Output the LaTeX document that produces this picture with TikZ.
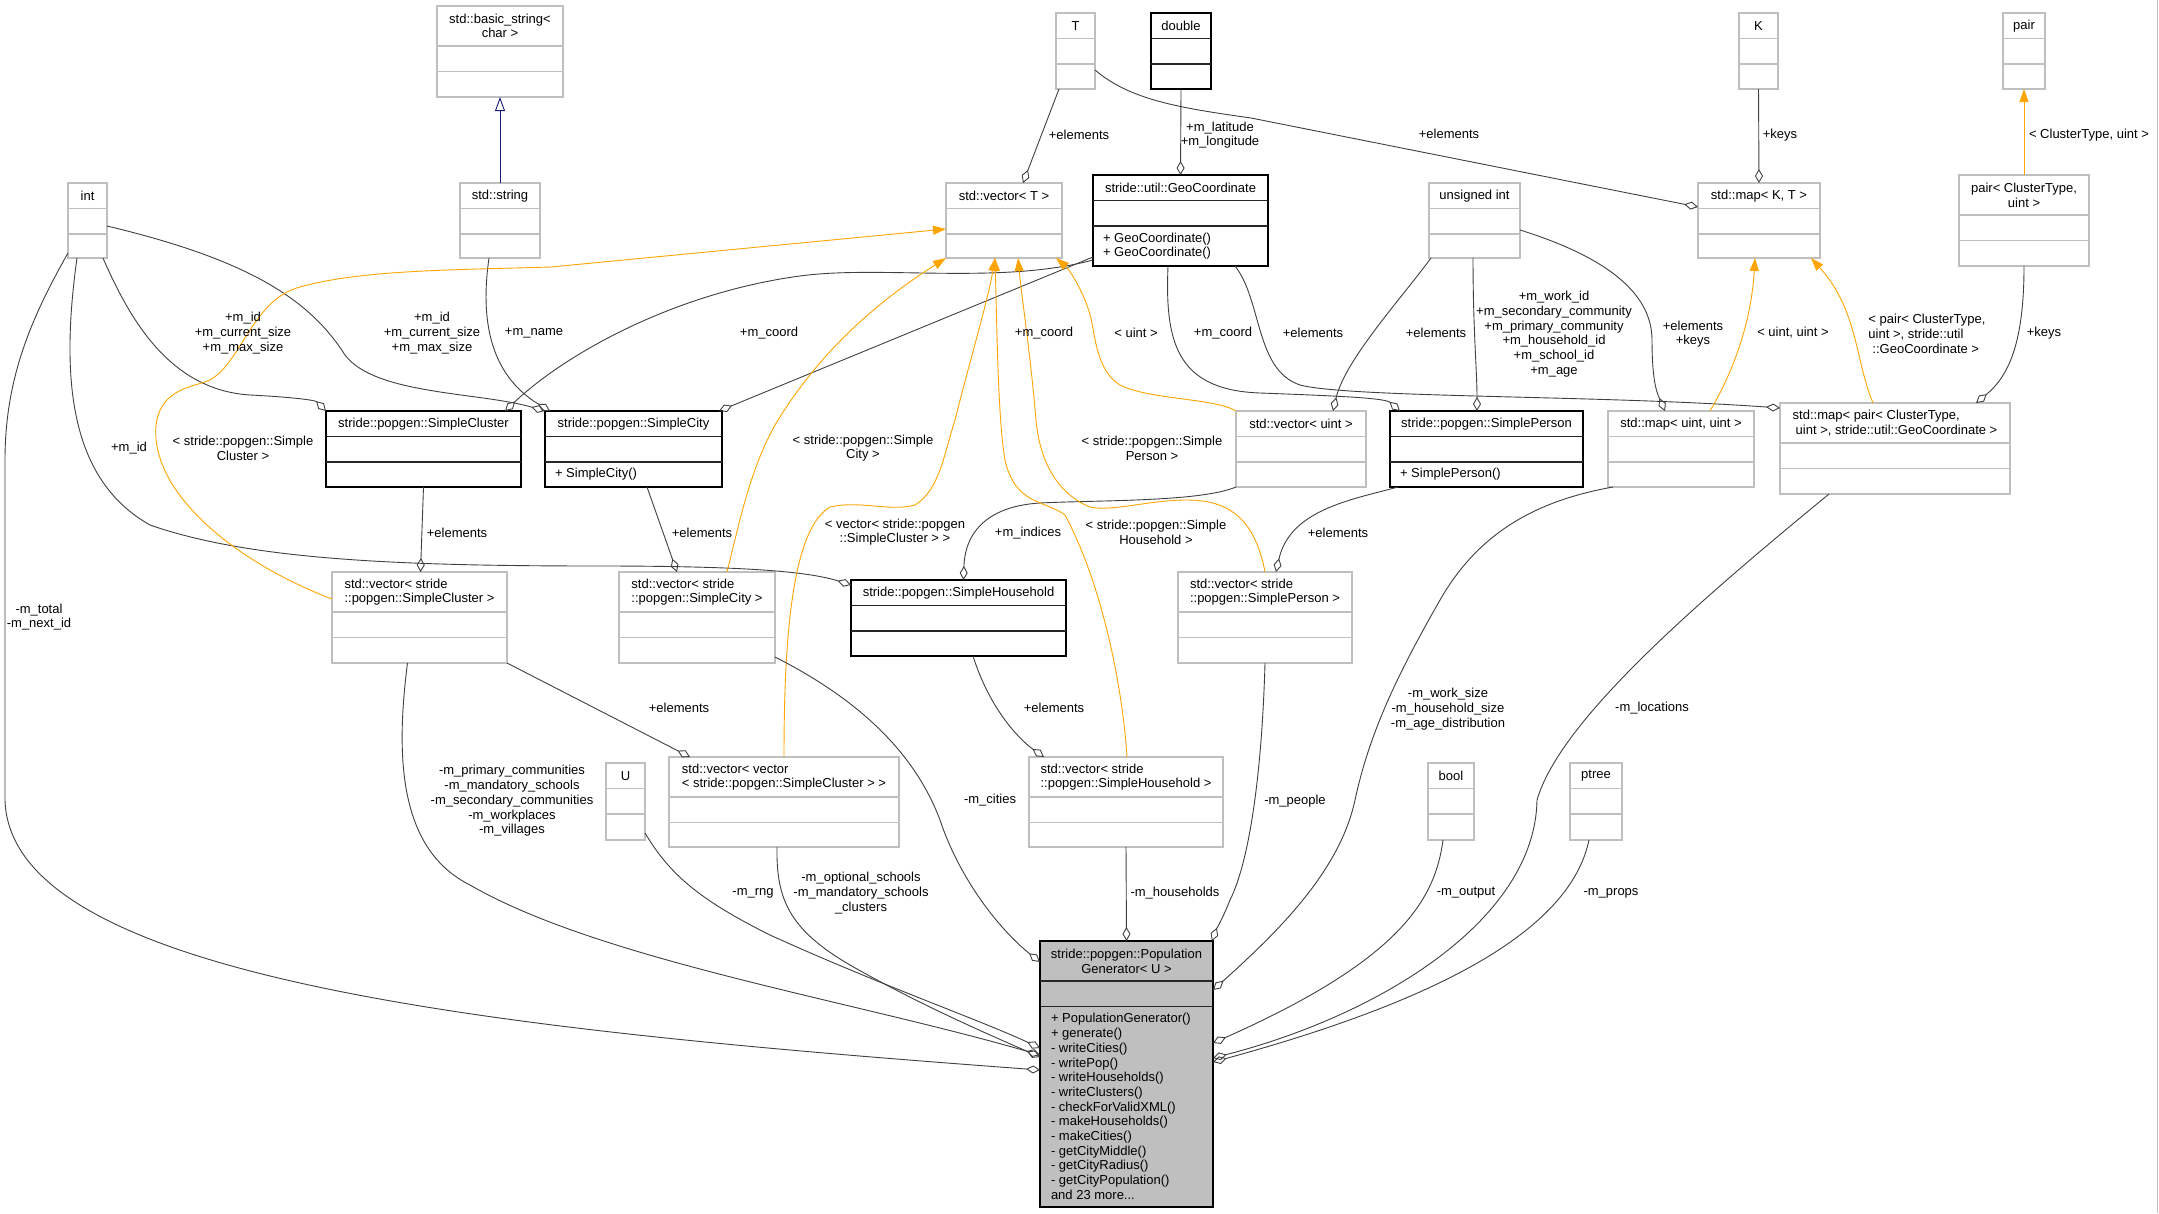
\documentclass[tikz,border=0pt]{standalone}
\usepackage{fontspec}
\setmainfont{Liberation Sans}
\usetikzlibrary{arrows.meta,calc}
\definecolor{edgec}{HTML}{404040}
\definecolor{tplc}{HTML}{BFBFBF}
\definecolor{mainfill}{HTML}{BFBFBF}
\definecolor{orng}{HTML}{FFA500}
\definecolor{inhc}{HTML}{191970}
\tikzset{
 lbl/.style={font=\fontsize{13}{14.7}\selectfont,inner sep=0pt,outer sep=0pt,text=black},
 tplbox/.style={draw=tplc,line width=1.2pt,fill=white,inner sep=0pt,outer sep=0pt},
 tplboxsep/.style={draw=tplc,line width=1.2pt},
 clsbox/.style={draw=black,line width=1.3pt,fill=white,inner sep=0pt,outer sep=0pt},
 clsboxsep/.style={draw=black!85,line width=1.3pt},
 mainbox/.style={draw=black,line width=1.3pt,fill=mainfill,inner sep=0pt,outer sep=0pt},
 mainboxsep/.style={draw=black!85,line width=1.3pt},
 agg/.style={draw=edgec,line width=0.9pt,-{Diamond[open,length=14pt,width=8pt]}},
 tpl/.style={draw=orng,line width=0.9pt,-{Triangle[length=13pt,width=9pt]}},
 inh/.style={draw=inhc,line width=0.9pt,-{Triangle[open,length=14pt,width=10pt]}},
}
% #1 name, #2 style, #3 x1, #4 y1, #5 x2, #6 y2, #7 title height, #8 align, #9 title
\newcommand\cbox[9]{%
  \node[#2,anchor=north west,minimum width={(#5)-(#3)},minimum height={(#6)-(#4)}] (#1) at (#3,#4) {};
  \draw[#2sep] ([yshift=-#7]#1.north west) -- ([yshift=-#7]#1.north east);
  \draw[#2sep] ([yshift={-(#7)-25.5}]#1.north west) -- ([yshift={-(#7)-25.5}]#1.north east);
  \node[lbl,#8] (#1-title) at ([yshift={-(#7)/2}]#1.north) {#9};
}
\begin{document}
\begin{tikzpicture}[x=1pt,y=-1pt]
\fill[white] (0,0) rectangle (2159,1213);
\useasboundingbox (0,0) rectangle (2159,1213);
\draw[tplc,line width=1pt] (2157.5,0) -- (2157.5,1213);

% ---------- boxes ----------
\cbox{bstr}{tplbox}{437}{6}{563}{97}{40}{align=center}{std::basic\_string<\\char >}
\cbox{str}{tplbox}{460}{183}{540}{258}{25.5}{align=center}{std::string}
\cbox{int}{tplbox}{68}{183}{107}{258}{25.5}{align=center}{int}
\cbox{T}{tplbox}{1056}{13}{1095}{89}{25.5}{align=center}{T}
\cbox{dbl}{clsbox}{1151}{13}{1211}{89}{25.5}{align=center}{double}
\cbox{vecT}{tplbox}{946}{183}{1062}{258}{25.5}{align=center}{std::vector< T >}
\cbox{geo}{clsbox}{1093}{175}{1268}{266}{25.5}{align=center}{stride::util::GeoCoordinate}
\cbox{K}{tplbox}{1739}{13}{1778}{89}{25.5}{align=center}{K}
\cbox{pair}{tplbox}{2003}{13}{2045}{89}{25.5}{align=center}{pair}
\cbox{uint}{tplbox}{1429}{183}{1520}{258}{25.5}{align=center}{unsigned int}
\cbox{mapKT}{tplbox}{1698}{183}{1820}{258}{25.5}{align=center}{std::map< K, T >}
\cbox{pairCT}{tplbox}{1959}{175}{2089}{266}{40}{align=center}{pair< ClusterType,\\uint >}
\cbox{scl}{clsbox}{326}{411}{521}{487}{25.5}{align=center}{stride::popgen::SimpleCluster}
\cbox{scity}{clsbox}{545}{411}{722}{487}{25.5}{align=center}{stride::popgen::SimpleCity}
\cbox{vsc}{tplbox}{332}{572}{507}{663}{40}{align=left}{std::vector< stride\\::popgen::SimpleCluster >}
\cbox{vscity}{tplbox}{619}{572}{775}{663}{40}{align=left}{std::vector< stride\\::popgen::SimpleCity >}
\cbox{shh}{clsbox}{851}{580}{1066}{656}{25.5}{align=center}{stride::popgen::SimpleHousehold}
\cbox{vsp}{tplbox}{1178}{572}{1352}{663}{40}{align=left}{std::vector< stride\\::popgen::SimplePerson >}
\cbox{vuint}{tplbox}{1236}{411}{1366}{487}{25.5}{align=center}{std::vector< uint >}
\cbox{sp}{clsbox}{1390}{411}{1583}{487}{25.5}{align=center}{stride::popgen::SimplePerson}
\cbox{mapuu}{tplbox}{1608}{411}{1754}{487}{25.5}{align=center}{std::map< uint, uint >}
\cbox{mappair}{tplbox}{1780}{403}{2010}{494}{40}{align=left}{std::map< pair< ClusterType,\\\hspace{3pt}uint >, stride::util::GeoCoordinate >}
\cbox{U}{tplbox}{606}{763}{645}{840}{25.5}{align=center}{U}
\cbox{vvsc}{tplbox}{669}{757}{899}{847}{40}{align=left}{std::vector< vector\\< stride::popgen::SimpleCluster > >}
\cbox{vshh}{tplbox}{1029}{757}{1223}{847}{40}{align=left}{std::vector< stride\\::popgen::SimpleHousehold >}
\cbox{bool}{tplbox}{1428}{763}{1474}{840}{25.5}{align=center}{bool}
\cbox{ptree}{tplbox}{1570}{763}{1622}{840}{25.5}{align=center}{ptree}
\cbox{main}{mainbox}{1040}{941}{1213}{1207}{40}{align=center}{stride::popgen::Population\\Generator< U >}

% methods
\node[lbl,align=left,anchor=west] (geo-m) at ($(geo.south west)+(10,-20)$) {+ GeoCoordinate()\\+ GeoCoordinate()};
\node[lbl,align=left,anchor=west] (scity-m) at ($(scity.south west)+(10,-12.5)$) {+ SimpleCity()};
\node[lbl,align=left,anchor=west] (sp-m) at ($(sp.south west)+(10,-12.5)$) {+ SimplePerson()};
\node[lbl,align=left,anchor=west] (main-m) at ($(main.south west)+(11,-100.5)$) {+ PopulationGenerator()\\+ generate()\\- writeCities()\\- writePop()\\- writeHouseholds()\\- writeClusters()\\- checkForValidXML()\\- makeHouseholds()\\- makeCities()\\- getCityMiddle()\\- getCityRadius()\\- getCityPopulation()\\and 23 more...};

% ---------- edges ----------
\draw[inh] (str.north) -- (bstr.south);

\draw[agg] ($(T.south west)+(3,0)$) -- ($(vecT.north)+(19,0)$);
\draw[agg] ($(T.south east)+(0,-19)$) .. controls (1130,100) and (1180,108) .. (1251,118) -- ($(mapKT.north west)+(0,24)$);
\draw[agg] (K.south) -- (mapKT.north);
\draw[agg] (dbl.south) -- (geo.north);
\draw[tpl] (pairCT.north) -- (pair.south);
\draw[agg] (pairCT.south) .. controls (2024,340) and (2010,375) .. ($(mappair.north east)+(-34,0)$);

\draw[agg] ($(uint.south west)+(2,0)$) .. controls (1400,300) and (1345,360) .. ($(vuint.north)+(32,0)$);
\draw[agg] ($(uint.south)+(-1.5,0)$) .. controls (1473,330) and (1477,370) .. ($(sp.north west)+(87,0)$);
\draw[agg] ($(uint.south east)+(0,-28)$) .. controls (1600,255) and (1652,290) .. (1652,340) .. controls (1652,385) and (1658,395) .. ($(mapuu.north west)+(57,0)$);

\draw[agg] ($(geo.south west)+(0,-6)$) .. controls (1000,285) and (880,265) .. (800,276) .. controls (680,292) and (570,350) .. ($(scl.north east)+(-16,0)$);
\draw[agg] ($(geo.south west)+(0,-9)$) -- ($(scity.north east)+(-3,0)$);
\draw[agg] ($(geo.south west)+(75,0)$) .. controls (1165,340) and (1175,390) .. (1260,393) .. controls (1340,396) and (1385,398) .. ($(sp.north west)+(10,0)$);
\draw[agg] ($(geo.south east)+(-33,0)$) .. controls (1262,300) and (1255,370) .. (1300,385) .. controls (1350,398) and (1600,395) .. ($(mappair.north west)+(0,5)$);

\draw[agg] ($(int.south east)+(-4,0)$) .. controls (130,320) and (170,390) .. (250,395) .. controls (290,397) and (315,400) .. (scl.north west);
\draw[agg] ($(int.south east)+(0,-32)$) .. controls (250,260) and (310,300) .. (345,355) .. controls (375,395) and (480,392) .. (scity.north west);
\draw[agg] ($(str.south)+(-11,0)$) .. controls (480,320) and (490,375) .. ($(scity.north west)+(5,0)$);
\draw[agg] ($(int.south west)+(9,0)$) .. controls (60,380) and (70,480) .. (150,525) .. controls (250,560) and (400,566) .. (600,566) .. controls (750,566) and (810,572) .. ($(shh.north west)+(0,5)$);
\draw[agg] ($(int.south west)+(0,-5)$) .. controls (30,320) and (5,380) .. (5,460) -- (5,800) .. controls (10,980) and (500,1030) .. ($(main.north west)+(0,129)$);

\draw[agg] (scl.south) -- ($(vsc.north)+(1,0)$);
\draw[agg] ($(scity.south)+(13.5,0)$) -- ($(vscity.north)+(-20,0)$);
\draw[agg] (vuint.south west) .. controls (1200,502) and (1100,500) .. (1040,503) .. controls (990,506) and (965,530) .. ($(shh.north)+(5,0)$);
\draw[agg] ($(sp.south west)+(8,0)$) .. controls (1350,500) and (1290,510) .. ($(vsp.north)+(11,0)$);
\draw[agg] (vsc.south east) -- ($(vvsc.north west)+(21,0)$);
\draw[agg] ($(shh.south)+(14.5,0)$) .. controls (990,710) and (1020,740) .. ($(vshh.north west)+(15,0)$);

% template instantiations
\draw[tpl] ($(vsc.north west)+(0,27)$) .. controls (230,560) and (150,490) .. (156,425) .. controls (160,393) and (185,388) .. (205,382) .. controls (240,370) and (250,300) .. (300,287) .. controls (360,270) and (450,270) .. (551,267) -- ($(vecT.north west)+(0,46)$);
\draw[tpl] ($(vscity.north)+(30,0)$) .. controls (740,520) and (750,470) .. (775,425) .. controls (820,350) and (880,300) .. (vecT.south west);
\draw[tpl] (vvsc.north) .. controls (784,650) and (790,530) .. (830,507) .. controls (860,500) and (890,512) .. (915,505) .. controls (940,490) and (945,450) .. (955,420) .. controls (970,360) and (988,300) .. ($(vecT.south)+(-9,0)$);
\draw[tpl] ($(vshh.north)+(1,0)$) .. controls (1122,680) and (1100,580) .. (1065,515) .. controls (1045,500) and (1015,505) .. (1005,460) .. controls (998,420) and (997,330) .. ($(vecT.south)+(-9,0)$);
\draw[tpl] (vsp.north) .. controls (1255,520) and (1230,500) .. (1187,500) .. controls (1150,500) and (1110,512) .. (1090,507) .. controls (1060,495) and (1040,465) .. (1036,420) .. controls (1030,350) and (1022,300) .. ($(vecT.south)+(14,0)$);
\draw[tpl] (vuint.north west) .. controls (1215,398) and (1150,400) .. (1120,385) .. controls (1095,370) and (1095,330) .. (1090,315) .. controls (1085,295) and (1070,270) .. ($(vecT.south east)+(-6,0)$);
\draw[tpl] ($(mapuu.north west)+(102,0)$) .. controls (1740,360) and (1752,310) .. ($(mapKT.south)+(-4,0)$);
\draw[tpl] ($(mappair.north west)+(93,0)$) .. controls (1855,360) and (1858,310) .. ($(mapKT.south east)+(-9,0)$);

% members of the generator
\draw[agg] ($(vsc.south)+(-12,0)$) .. controls (395,760) and (400,850) .. (470,885) .. controls (600,960) and (850,1000) .. ($(main.north west)+(0,114)$);
\draw[agg] ($(U.south east)+(0,-7)$) .. controls (670,875) and (700,900) .. (770,935) .. controls (880,985) and (980,1020) .. ($(main.north west)+(0,107)$);
\draw[agg] ($(vvsc.south)+(-7,0)$) .. controls (776,900) and (790,930) .. (850,965) .. controls (920,1005) and (990,1035) .. ($(main.north west)+(0,116)$);
\draw[agg] ($(vscity.south east)+(0,-6)$) .. controls (840,690) and (910,740) .. (940,820) .. controls (960,880) and (1000,930) .. ($(main.north west)+(0,21)$);
\draw[agg] (vshh.south) -- (main.north);
\draw[agg] (vsp.south) .. controls (1262,770) and (1250,860) .. (1230,900) .. controls (1222,920) and (1216,930) .. ($(main.north east)+(-1,0)$);
\draw[agg] ($(mapuu.south west)+(5,0)$) .. controls (1540,500) and (1480,530) .. (1440,600) .. controls (1400,670) and (1370,730) .. (1355,800) .. controls (1340,870) and (1280,930) .. ($(main.north east)+(0,49)$);
\draw[agg] ($(mappair.south west)+(49,0)$) .. controls (1700,600) and (1560,720) .. (1537,800) .. controls (1535,920) and (1380,1015) .. ($(main.north east)+(0,117)$);
\draw[agg] ($(bool.south)+(-8,0)$) .. controls (1435,900) and (1400,960) .. ($(main.north east)+(0,102)$);
\draw[agg] ($(ptree.south)+(-7,0)$) .. controls (1570,930) and (1440,1000) .. ($(main.north east)+(0,121)$);

% ---------- edge labels ----------
\node[lbl] (l1) at (1079,135) {+elements};
\node[lbl] (l2) at (1449,134) {+elements};
\node[lbl] (l3) at (1780,135) {+keys};
\node[lbl] (l4) at (2089,135) {< ClusterType, uint >};
\node[lbl,align=center] (l5) at (1220,135) {+m\_latitude\\+m\_longitude};
\node[lbl] (l6) at (2044,333) {+keys};
\node[lbl] (l7) at (1793,333) {< uint, uint >};
\node[lbl,align=left] (l8) at (1927,334) {< pair< ClusterType,\\uint >, stride::util\\\hspace{4pt}::GeoCoordinate >};
\node[lbl] (l9) at (1436,333) {+elements};
\node[lbl,align=center] (l10) at (1554,334) {+m\_work\_id\\+m\_secondary\_community\\+m\_primary\_community\\+m\_household\_id\\+m\_school\_id\\+m\_age};
\node[lbl,align=center] (l11) at (1693,334) {+elements\\+keys};
\node[lbl] (l12) at (769,333) {+m\_coord};
\node[lbl] (l13) at (1044,333) {+m\_coord};
\node[lbl] (l14) at (1223,333) {+m\_coord};
\node[lbl] (l15) at (1313,333) {+elements};
\node[lbl,align=center] (l16) at (243,333) {+m\_id\\+m\_current\_size\\+m\_max\_size};
\node[lbl,align=center] (l17) at (432,333) {+m\_id\\+m\_current\_size\\+m\_max\_size};
\node[lbl] (l18) at (534,333) {+m\_name};
\node[lbl] (l19) at (1136,333) {< uint >};
\node[lbl] (l20) at (129,448) {+m\_id};
\node[lbl,align=center] (l21) at (243,448) {< stride::popgen::Simple\\Cluster >};
\node[lbl,align=center] (l22) at (863,448) {< stride::popgen::Simple\\City >};
\node[lbl,align=center] (l23) at (1152,448) {< stride::popgen::Simple\\Person >};
\node[lbl] (l24) at (457,533) {+elements};
\node[lbl] (l25) at (702,533) {+elements};
\node[lbl,align=center] (l26) at (895,532) {< vector< stride::popgen\\::SimpleCluster > >};
\node[lbl] (l27) at (1028,533) {+m\_indices};
\node[lbl,align=center] (l28) at (1156,532) {< stride::popgen::Simple\\Household >};
\node[lbl] (l29) at (1338,533) {+elements};
\node[lbl,align=center] (l30) at (39,617) {-m\_total\\-m\_next\_id};
\node[lbl] (l31) at (679,708) {+elements};
\node[lbl] (l32) at (1054,708) {+elements};
\node[lbl,align=center] (l33) at (1448,709) {-m\_work\_size\\-m\_household\_size\\-m\_age\_distribution};
\node[lbl] (l34) at (1652,708) {-m\_locations};
\node[lbl,align=center] (l35) at (512,801) {-m\_primary\_communities\\-m\_mandatory\_schools\\-m\_secondary\_communities\\-m\_workplaces\\-m\_villages};
\node[lbl] (l36) at (990,800) {-m\_cities};
\node[lbl] (l37) at (1295,801) {-m\_people};
\node[lbl] (l38) at (753,893) {-m\_rng};
\node[lbl,align=center] (l39) at (861,893) {-m\_optional\_schools\\-m\_mandatory\_schools\\\_clusters};
\node[lbl] (l40) at (1175,893) {-m\_households};
\node[lbl] (l41) at (1466,893) {-m\_output};
\node[lbl] (l42) at (1611,893) {-m\_props};
\end{tikzpicture}
\end{document}
